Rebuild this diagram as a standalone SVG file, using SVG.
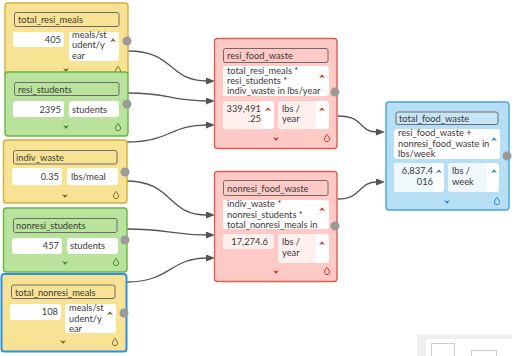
<svg xmlns="http://www.w3.org/2000/svg" width="512" height="356" viewBox="0 0 512 356">
  <defs>
    <style>
      text { font-family: Lato, "Liberation Sans", sans-serif; font-size: 9.3px; fill: #3a3a3a; }
      .r { text-anchor: end; }
      .box { stroke-width: 1.4; }
      .y .box { fill: #f8e395; stroke: #cfae3b; }
      .g .box { fill: #b9e39d; stroke: #6ab545; }
      .rd .box { fill: #ffc9c5; stroke: #e05d50; }
      .b .box { fill: #b6def4; stroke: #4aa3dc; }
      .sel .box { stroke: #2f8fe0; stroke-width: 2; }
      .name { stroke: #6b6b6b; stroke-width: 1; }
      .y .name { fill: #f8e395; }
      .g .name { fill: #b9e39d; }
      .rd .name { fill: #ffc9c5; }
      .b .name { fill: #c6e6f7; }
      .field { fill: #ffffff; }
      .rd .soft { fill: #fff0ee; }
      .b .soft { fill: #eef8fd; }
      .y .ic { fill: #7a6a1c; }
      .g .ic { fill: #3f8a25; }
      .rd .ic { fill: #d0392b; }
      .b .ic { fill: #2f86c8; }
      .y .drop { stroke: #7a6a1c; }
      .g .drop { stroke: #3f8a25; }
      .rd .drop { stroke: #d0392b; }
      .b .drop { stroke: #2f86c8; }
      .drop { fill: none; stroke-width: 1; }
      .dot { fill: #9a9a9a; }
      .link { fill: none; stroke: #555555; stroke-width: 1.3; marker-end: url(#arrow); }
    </style>
    <marker id="arrow" markerUnits="userSpaceOnUse" markerWidth="10" markerHeight="8" refX="1" refY="3.5" orient="auto">
      <path d="M0,0 L9,3.5 L0,7 z" fill="#555555"/>
    </marker>
    <!-- small icons -->
    <path id="up" d="M-3,2 L0,-1.8 L3,2 L0,0.9 z"/>
    <path id="down" d="M-3,-1.8 L0,2 L3,-1.8 L0,-0.7 z"/>
    <path id="drop" d="M0,-3.6 C1.4,-1.6 2.6,-0.2 2.6,1.2 C2.6,2.7 1.4,3.6 0,3.6 C-1.4,3.6 -2.6,2.7 -2.6,1.2 C-2.6,-0.2 -1.4,-1.6 0,-3.6 z"/>
  </defs>

  <!-- connectors -->
  <g id="connectors">
    <path class="link" d="M128,51 C175,51 168,81 207,81"/>
    <path class="link" d="M128,93 C170,93 170,101 207,101"/>
    <path class="link" d="M127,142 C170,142 170,125 207,125"/>
    <path class="link" d="M126,181 C174,181 166,215 207,215"/>
    <path class="link" d="M126,229 C170,229 170,235 207,235"/>
    <path class="link" d="M127,282 C170,282 170,258 207,258"/>
    <path class="link" d="M338,116 C365,116 358,132 377,132"/>
    <path class="link" d="M338,199 C362,199 358,182 377,182"/>
  </g>

  <!-- total_resi_meals -->
  <g id="total_resi_meals" class="y">
    <rect class="box" x="5" y="3" width="123" height="74" rx="3"/>
    <rect class="name" x="14.5" y="12.5" width="104.5" height="14" rx="2"/>
    <text x="18" y="23">total_resi_meals</text>
    <rect class="field" x="13" y="32" width="51" height="15" rx="3"/>
    <text class="r" x="61" y="42.5">405</text>
    <rect class="field" x="69" y="32" width="50" height="29" rx="3"/>
    <text x="72" y="37.5">meals/st</text>
    <text x="72" y="48">udent/y</text>
    <text x="72" y="58.5">ear</text>
    <use href="#up" class="ic" x="113" y="40"/>
    <use href="#down" class="ic" x="66" y="70"/>
    <use href="#drop" class="drop" x="118" y="70"/>
    <circle class="dot" cx="127" cy="41" r="4.5"/>
  </g>

  <!-- resi_students -->
  <g id="resi_students" class="g">
    <rect class="box" x="5" y="72" width="123" height="64" rx="3"/>
    <rect class="name" x="14.5" y="82.5" width="104.5" height="13" rx="2"/>
    <text x="18" y="93">resi_students</text>
    <rect class="field" x="13" y="101" width="51" height="16" rx="3"/>
    <text class="r" x="61" y="112.5">2395</text>
    <rect class="field" x="69" y="101" width="50" height="16" rx="3"/>
    <text x="72" y="112.5">students</text>
    <use href="#down" class="ic" x="66" y="127"/>
    <use href="#drop" class="drop" x="118" y="127"/>
    <circle class="dot" cx="127" cy="104" r="4.5"/>
  </g>

  <!-- indiv_waste -->
  <g id="indiv_waste" class="y">
    <rect class="box" x="3.5" y="140" width="123.5" height="63" rx="3"/>
    <rect class="name" x="13.5" y="150.5" width="103.5" height="13.5" rx="2"/>
    <text x="16" y="161">indiv_waste</text>
    <rect class="field" x="12" y="168" width="50" height="17" rx="3"/>
    <text class="r" x="59" y="179.5">0.35</text>
    <rect class="field" x="67" y="168" width="51" height="17" rx="3"/>
    <text x="71" y="179.5">lbs/meal</text>
    <use href="#down" class="ic" x="65" y="196"/>
    <use href="#drop" class="drop" x="116" y="195"/>
    <circle class="dot" cx="125" cy="172" r="4.5"/>
  </g>

  <!-- nonresi_students -->
  <g id="nonresi_students" class="g">
    <rect class="box" x="3.5" y="208" width="123.5" height="64" rx="3"/>
    <rect class="name" x="13.5" y="218.5" width="103.5" height="14" rx="2"/>
    <text x="16" y="229">nonresi_students</text>
    <rect class="field" x="12" y="238" width="50" height="16" rx="3"/>
    <text class="r" x="59" y="249">457</text>
    <rect class="field" x="67" y="238" width="51" height="16" rx="3"/>
    <text x="70" y="249">students</text>
    <use href="#down" class="ic" x="65" y="263"/>
    <use href="#drop" class="drop" x="116" y="262"/>
    <circle class="dot" cx="125" cy="240" r="4.5"/>
  </g>

  <!-- total_nonresi_meals -->
  <g id="total_nonresi_meals" class="y sel">
    <rect class="box" x="1.5" y="274" width="125" height="77.5" rx="3"/>
    <rect class="name" x="11.5" y="285" width="103.5" height="13.5" rx="2"/>
    <text x="15" y="295.5">total_nonresi_meals</text>
    <rect class="field" x="10" y="304" width="51" height="16" rx="3"/>
    <text class="r" x="58" y="315">108</text>
    <rect class="field" x="65" y="304" width="51" height="29" rx="3"/>
    <text x="69" y="311">meals/st</text>
    <text x="69" y="321.5">udent/y</text>
    <text x="69" y="331.5">ear</text>
    <use href="#up" class="ic" x="110" y="313"/>
    <use href="#down" class="ic" x="63" y="342"/>
    <use href="#drop" class="drop" x="115" y="342"/>
    <circle class="dot" cx="124" cy="313" r="4.5"/>
  </g>

  <!-- resi_food_waste -->
  <g id="resi_food_waste" class="rd">
    <rect class="box" x="214.5" y="38.5" width="122.5" height="110" rx="3"/>
    <rect class="name" x="223.5" y="48.5" width="104.5" height="14" rx="2"/>
    <text x="227" y="59">resi_food_waste</text>
    <rect class="field" x="223" y="66" width="106" height="30" rx="3"/>
    <text x="227" y="73.5">total_resi_meals *</text>
    <text x="227" y="84">resi_students *</text>
    <text x="227" y="94">indiv_waste in lbs/year</text>
    <use href="#up" class="ic" x="322" y="76"/>
    <rect class="field" x="223" y="101" width="51" height="28" rx="3"/>
    <rect class="soft" x="223" y="101" width="39" height="28" rx="3"/>
    <text class="r" x="261" y="111.5">339,491</text>
    <text class="r" x="261" y="122">.25</text>
    <use href="#up" class="ic" x="268" y="109"/>
    <rect class="field" x="278" y="101" width="51" height="28" rx="3"/>
    <rect class="soft" x="278" y="101" width="38" height="28" rx="3"/>
    <text x="282" y="111.5">lbs /</text>
    <text x="282" y="122">year</text>
    <use href="#up" class="ic" x="322" y="109"/>
    <use href="#down" class="ic" x="276" y="139"/>
    <use href="#drop" class="drop" x="327" y="138"/>
    <circle class="dot" cx="335" cy="92" r="4.5"/>
  </g>

  <!-- nonresi_food_waste -->
  <g id="nonresi_food_waste" class="rd">
    <rect class="box" x="214.5" y="171.5" width="122.5" height="110" rx="3"/>
    <rect class="name" x="223.5" y="180.5" width="104.5" height="15" rx="2"/>
    <text x="227" y="191.5">nonresi_food_waste</text>
    <rect class="field" x="223" y="200" width="106" height="29" rx="3"/>
    <text x="227" y="207">indiv_waste *</text>
    <text x="227" y="217.5">nonresi_students *</text>
    <text x="227" y="227.5">total_nonresi_meals in</text>
    <use href="#up" class="ic" x="322" y="209"/>
    <rect class="soft" x="223" y="234" width="51" height="15" rx="3"/>
    <text class="r" x="268" y="245">17,274.6</text>
    <rect class="field" x="278" y="234" width="51" height="29" rx="3"/>
    <rect class="soft" x="278" y="234" width="38" height="29" rx="3"/>
    <text x="282" y="245">lbs /</text>
    <text x="282" y="256">year</text>
    <use href="#up" class="ic" x="322" y="243"/>
    <use href="#down" class="ic" x="276" y="272"/>
    <use href="#drop" class="drop" x="327" y="271"/>
    <circle class="dot" cx="335" cy="226" r="4.5"/>
  </g>

  <!-- total_food_waste -->
  <g id="total_food_waste" class="b">
    <rect class="box" x="386" y="102" width="123" height="108" rx="3"/>
    <rect class="name" x="396" y="112" width="102" height="12.5" rx="2"/>
    <text x="399" y="122">total_food_waste</text>
    <rect class="field" x="394" y="129" width="106" height="30" rx="3"/>
    <text x="398" y="136">resi_food_waste +</text>
    <text x="398" y="146.5">nonresi_food_waste in</text>
    <text x="398" y="157">lbs/week</text>
    <use href="#up" class="ic" x="494" y="139"/>
    <rect class="field" x="394" y="163" width="50" height="29" rx="3"/>
    <rect class="soft" x="394" y="163" width="39" height="29" rx="3"/>
    <text class="r" x="433" y="173.5">6,837.4</text>
    <text class="r" x="433" y="184.5">016</text>
    <use href="#up" class="ic" x="439" y="171"/>
    <rect class="field" x="448" y="163" width="51" height="29" rx="3"/>
    <rect class="soft" x="448" y="163" width="39" height="29" rx="3"/>
    <text x="452" y="173.5">lbs /</text>
    <text x="452" y="184.5">week</text>
    <use href="#up" class="ic" x="494" y="171"/>
    <use href="#down" class="ic" x="447" y="202"/>
    <use href="#drop" class="drop" x="497" y="201"/>
    <circle class="dot" cx="507" cy="156" r="4.5"/>
  </g>

  <!-- corner overview panel -->
  <g id="overview">
    <rect x="417" y="334" width="95" height="22" fill="#efefef"/>
    <rect x="426" y="339" width="86" height="17" fill="#ffffff"/>
    <rect x="431.5" y="343.5" width="23" height="15" fill="#ffffff" stroke="#cccccc"/>
    <rect x="471.5" y="350.5" width="25" height="8" fill="#ffffff" stroke="#cccccc"/>
  </g>
</svg>
